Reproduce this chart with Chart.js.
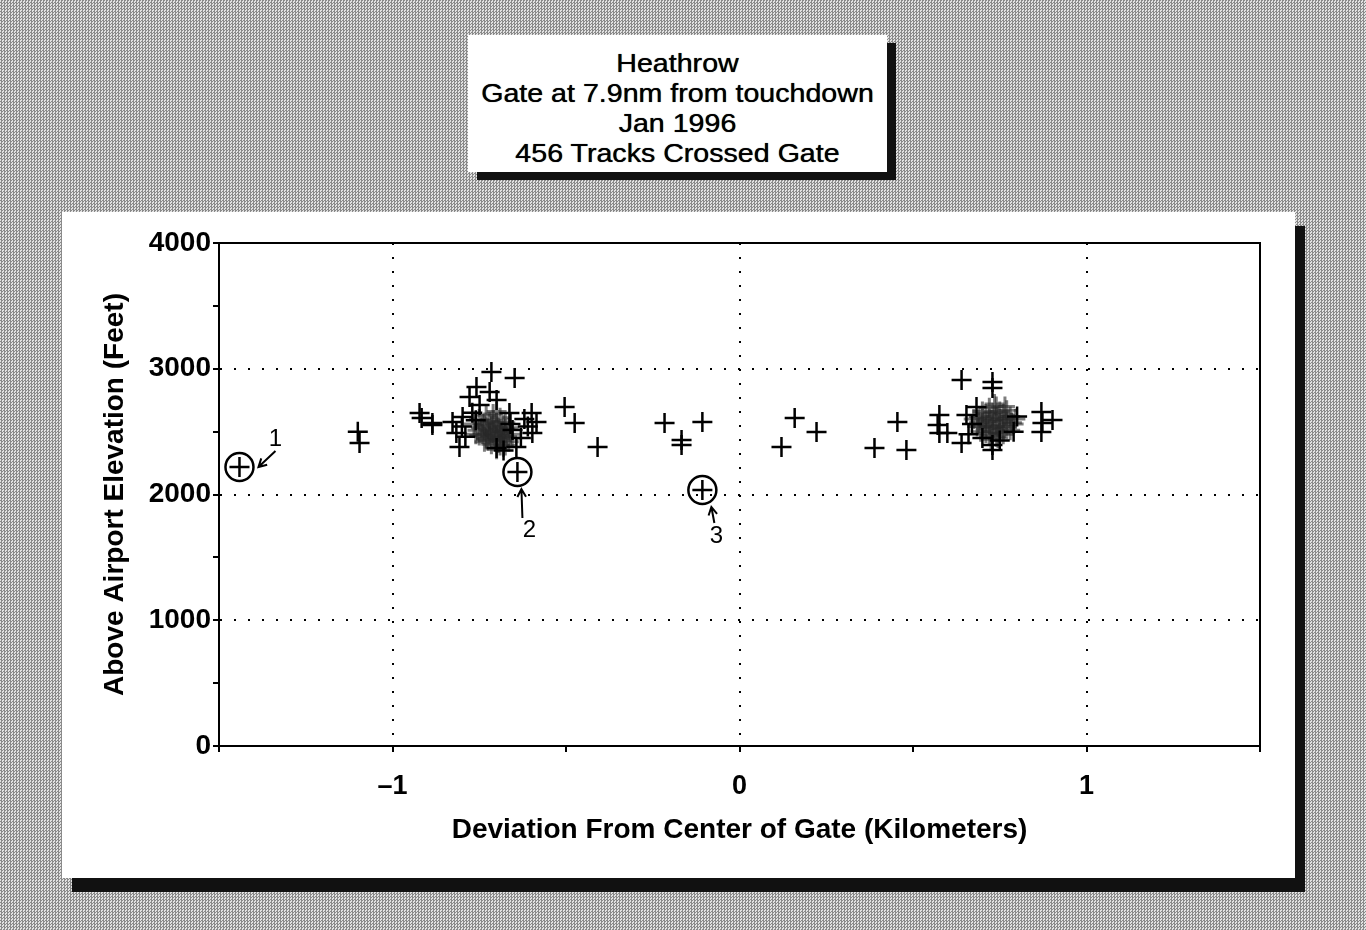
<!DOCTYPE html>
<html>
<head>
<meta charset="utf-8">
<title>Heathrow gate crossings</title>
<script src="https://cdn.jsdelivr.net/npm/chart.js@4.4.1/dist/chart.umd.min.js"></script>
<style>
    html, body {
        margin: 0;
        padding: 0;
    }
    body {
        width: 1366px;
        height: 930px;
        position: relative;
        overflow: hidden;
        background-color: #b8b8b8;
        background-image: repeating-conic-gradient(#8a8a8a 0 25%, #e2e2e2 0 50%);
        background-size: 3px 3px;
        font-family: "Liberation Sans", Arial, Helvetica, sans-serif;
    }
    #title-box {
        position: absolute;
        left: 468px;
        top: 35px;
        width: 419px;
        height: 137px;
        background: #fff;
        box-shadow: 9px 8px 0 #111;
        text-align: center;
        color: #000;
        font-size: 26px;
        line-height: 30px;
        padding-top: 13px;
        box-sizing: border-box;
        text-shadow: 0 0 0.7px #000;
    }
    #title-box div {
        transform: scaleX(1.1);
    }
    #panel {
        position: absolute;
        left: 62px;
        top: 212px;
        width: 1233px;
        height: 666px;
        background: #fff;
        box-shadow: 10px 14px 0 #111;
    }
    #chart {
        position: absolute;
        left: 0;
        top: 0;
    }
</style>
</head>
<body>
<div id="title-box">
    <div>Heathrow</div>
    <div>Gate at 7.9nm from touchdown</div>
    <div>Jan 1996</div>
    <div>456 Tracks Crossed Gate</div>
</div>
<div id="panel">
    <canvas id="chart" width="1233" height="666"></canvas>
</div>
<script>
    // 单独散点 (km, ft)
    var trackX = [
        -1.441, -1.100, -1.095,
        -0.922, -0.916, -0.885, -0.885, -0.827, -0.816, -0.807, -0.798,
        -0.778, -0.758, -0.749, -0.720, -0.715, -0.700, -0.663, -0.654,
        -0.648, -0.643, -0.640, -0.599, -0.597, -0.585,
        -0.800, -0.790, -0.770, -0.760, -0.660, -0.620, -0.610, -0.630, -0.680, -0.700,
        -0.504, -0.475, -0.409,
        -0.216, -0.167, -0.167, -0.107, -0.107,
        0.121, 0.159, 0.222,
        0.389, 0.455, 0.481,
        0.571, 0.576, 0.576, 0.599, 0.640, 0.640, 0.654, 0.683,
        0.729, 0.729, 0.729, 0.729,
        0.670, 0.660, 0.800, 0.790, 0.700, 0.750,
        0.870, 0.873, 0.870, 0.902
    ];
    var trackY = [
        2219, 2500, 2410,
        2648, 2608, 2569, 2553, 2577, 2489, 2378, 2616,
        2775, 2855, 2712, 2815, 2974, 2751, 2648, 2513,
        2926, 2378, 2179, 2648, 2489, 2577,
        2540, 2460, 2650, 2590, 2560, 2600, 2540, 2450, 2350, 2370,
        2696, 2569, 2378,
        2569, 2433, 2394, 2577, 2036,
        2378, 2608, 2497,
        2370, 2577, 2354,
        2553, 2632, 2489, 2489, 2410, 2911, 2632, 2696,
        2895, 2847, 2394, 2354,
        2560, 2480, 2620, 2500, 2450, 2430,
        2656, 2569, 2497, 2593
    ];

    // 左侧密集区
    var westX = [
        -0.750, -0.740, -0.730, -0.720, -0.710, -0.700, -0.690, -0.680,
        -0.755, -0.745, -0.735, -0.725, -0.715, -0.705, -0.695, -0.685, -0.675,
        -0.750, -0.740, -0.730, -0.720, -0.710, -0.700, -0.690, -0.680, -0.670,
        -0.735, -0.725, -0.715, -0.705, -0.695, -0.685, -0.675, -0.665,
        -0.710, -0.700, -0.720, -0.690, -0.675, -0.665, -0.765, -0.760, -0.730, -0.680,
        -0.700, -0.690, -0.660, -0.655
    ];
    var westY = [
        2600, 2560, 2630, 2580, 2640, 2570, 2610, 2550,
        2510, 2530, 2550, 2520, 2540, 2510, 2530, 2500, 2520,
        2470, 2480, 2450, 2460, 2490, 2470, 2450, 2470, 2460,
        2420, 2430, 2400, 2440, 2410, 2430, 2390, 2420,
        2590, 2660, 2500, 2490, 2570, 2530, 2560, 2480, 2440, 2380,
        2360, 2390, 2480, 2450
    ];

    // 右侧密集区
    var eastX = [
        0.690, 0.700, 0.710, 0.720, 0.730, 0.740, 0.750, 0.760, 0.770, 0.780,
        0.690, 0.700, 0.710, 0.720, 0.730, 0.740, 0.750, 0.760, 0.770, 0.785,
        0.700, 0.710, 0.720, 0.730, 0.740, 0.750, 0.760, 0.770, 0.780,
        0.710, 0.720, 0.730, 0.740, 0.750, 0.760,
        0.685, 0.695, 0.765, 0.735, 0.790, 0.675, 0.795, 0.725, 0.745
    ];
    var eastY = [
        2620, 2660, 2640, 2690, 2650, 2700, 2660, 2640, 2670, 2620,
        2570, 2600, 2580, 2610, 2590, 2620, 2600, 2580, 2600, 2570,
        2540, 2520, 2550, 2530, 2560, 2540, 2520, 2540, 2510,
        2490, 2470, 2500, 2460, 2490, 2480,
        2540, 2500, 2700, 2720, 2560, 2600, 2600, 2440, 2450
    ];

    // 圈出的航迹
    var noteText = ['1', '2', '3'];
    var noteX = [-1.441, -0.640, -0.107];
    var noteY = [2219, 2179, 2036];

    var xTickValues = [-1, 0, 1];
    var xTickText = ['\u20131', '0', '1'];
    var yTickValues = [1000, 2000, 3000];
    var yTickText = ['0', '1000', '2000', '3000', '4000'];

    var FONT = '"Liberation Sans", Arial, Helvetica, sans-serif';

    function zip(xs, ys) {
        var out = [];
        for (var i = 0; i < xs.length; i++) {
            out.push({x: xs[i], y: ys[i]});
        }
        return out;
    }

    // 图框上边和右边
    var frame = {
        id: 'frame',
        afterDraw: function (chart) {
            var a = chart.chartArea, ctx = chart.ctx;
            ctx.save();
            ctx.strokeStyle = '#000';
            ctx.lineWidth = 2;
            ctx.beginPath();
            ctx.moveTo(a.left, a.top);
            ctx.lineTo(a.right, a.top);
            ctx.lineTo(a.right, a.bottom);
            ctx.stroke();
            ctx.restore();
        }
    };

    // 编号和箭头 (偏移量为像素)
    var noteStyle = [
        {label: [36, -28], from: [36, -16], to: [19, 0]},
        {label: [12, 58], from: [5, 46], to: [4, 17]},
        {label: [14, 46], from: [12, 33], to: [9, 17]}
    ];
    var notes = {
        id: 'notes',
        afterDatasetsDraw: function (chart) {
            var ctx = chart.ctx, sx = chart.scales.x, sy = chart.scales.y;
            ctx.save();
            ctx.fillStyle = '#000';
            ctx.strokeStyle = '#000';
            ctx.lineWidth = 2;
            ctx.font = '24px ' + FONT;
            ctx.textAlign = 'center';
            ctx.textBaseline = 'middle';
            for (var i = 0; i < noteText.length; i++) {
                var px = sx.getPixelForValue(noteX[i]);
                var py = sy.getPixelForValue(noteY[i]);
                var s = noteStyle[i];
                ctx.fillText(noteText[i], px + s.label[0], py + s.label[1]);
                var x1 = px + s.from[0], y1 = py + s.from[1];
                var x2 = px + s.to[0], y2 = py + s.to[1];
                var ang = Math.atan2(y2 - y1, x2 - x1);
                ctx.beginPath();
                ctx.moveTo(x1, y1);
                ctx.lineTo(x2, y2);
                ctx.moveTo(x2 - 9 * Math.cos(ang - 0.5), y2 - 9 * Math.sin(ang - 0.5));
                ctx.lineTo(x2, y2);
                ctx.lineTo(x2 - 9 * Math.cos(ang + 0.5), y2 - 9 * Math.sin(ang + 0.5));
                ctx.stroke();
            }
            ctx.restore();
        }
    };

    function gridColor(majors) {
        return function (c) {
            return c.tick && majors.indexOf(c.tick.value) >= 0 ? '#000' : 'rgba(0,0,0,0)';
        };
    }

    var chart = new Chart(document.getElementById('chart'), {
        type: 'scatter',
        data: {
            datasets: [{
                label: 'Tracks',
                data: zip(trackX, trackY),
                pointStyle: 'cross',
                radius: 10,
                borderWidth: 2.5,
                borderColor: '#000',
                order: 0
            }, {
                label: 'Circled',
                data: zip(noteX, noteY),
                pointStyle: 'circle',
                radius: 14,
                borderWidth: 2.5,
                borderColor: '#000',
                backgroundColor: 'rgba(0,0,0,0)',
                order: 1
            }, {
                label: 'West cluster',
                data: zip(westX, westY),
                pointStyle: 'cross',
                radius: 10,
                borderWidth: 3,
                borderColor: 'rgba(40,40,40,0.6)',
                order: 2
            }, {
                label: 'East cluster',
                data: zip(eastX, eastY),
                pointStyle: 'cross',
                radius: 10,
                borderWidth: 3,
                borderColor: 'rgba(40,40,40,0.6)',
                order: 2
            }]
        },
        options: {
            responsive: false,
            animation: false,
            devicePixelRatio: 1,
            layout: {padding: {top: 31, right: 35, left: 0, bottom: 0}},
            plugins: {
                legend: {display: false},
                tooltip: {enabled: false}
            },
            elements: {point: {hoverRadius: 10}},
            scales: {
                x: {
                    type: 'linear',
                    min: -1.5,
                    max: 1.5,
                    afterFit: function (s) { s.height = 132; },
                    ticks: {
                        stepSize: 0.5,
                        autoSkip: false,
                        maxRotation: 0,
                        padding: 18,
                        color: '#000',
                        font: {family: FONT, size: 27, weight: 'bold'},
                        callback: function (v) {
                            var k = xTickValues.indexOf(v);
                            return k >= 0 ? xTickText[k] : '';
                        }
                    },
                    grid: {
                        color: gridColor(xTickValues),
                        lineWidth: 2,
                        tickColor: '#000',
                        tickLength: 6,
                        tickWidth: 2
                    },
                    border: {display: true, color: '#000', width: 2, dash: [2, 12]},
                    title: {
                        display: true,
                        text: 'Deviation From Center of Gate (Kilometers)',
                        color: '#000',
                        font: {family: FONT, size: 28, weight: 'bold'},
                        padding: {top: 0, bottom: 31}
                    }
                },
                y: {
                    type: 'linear',
                    min: 0,
                    max: 4000,
                    afterFit: function (s) { s.width = 157; },
                    ticks: {
                        stepSize: 500,
                        autoSkip: false,
                        padding: 2,
                        color: '#000',
                        font: {family: FONT, size: 28, weight: 'bold'},
                        callback: function (v) {
                            var k = yTickText.indexOf(String(v));
                            return k >= 0 ? yTickText[k] : '';
                        }
                    },
                    grid: {
                        color: gridColor(yTickValues),
                        lineWidth: 2,
                        tickColor: '#000',
                        tickLength: 6,
                        tickWidth: 2
                    },
                    border: {display: true, color: '#000', width: 2, dash: [2, 12]},
                    title: {
                        display: true,
                        text: 'Above Airport Elevation (Feet)',
                        color: '#000',
                        font: {family: FONT, size: 28, weight: 'bold'},
                        padding: {top: 36, bottom: 0}
                    }
                }
            }
        },
        plugins: [frame, notes]
    });
</script>
</body>
</html>
